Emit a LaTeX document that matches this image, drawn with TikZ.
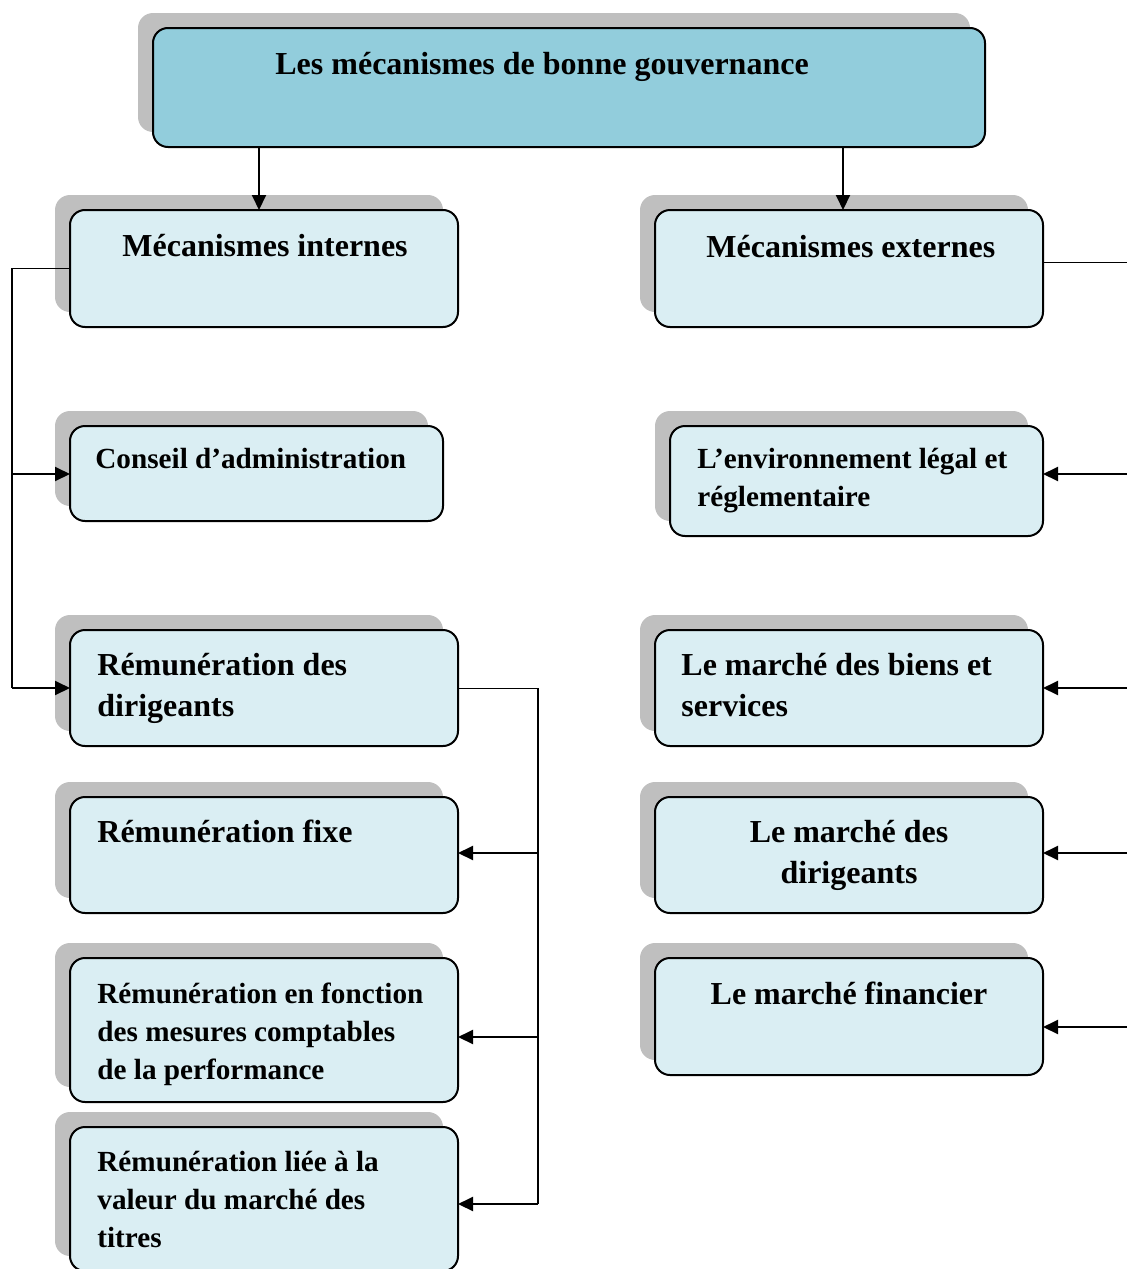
\documentclass[tikz,border=0pt]{standalone}
\usepackage{fontspec}
\setmainfont{Liberation Serif}
\usetikzlibrary{shadows,arrows.meta}
\definecolor{titlefill}{HTML}{92CDDC}
\definecolor{boxfill}{HTML}{DAEEF3}
\definecolor{shadowgray}{HTML}{BFBFBF}
\tikzset{
  box/.style={rectangle, rounded corners=7.5pt, draw=black, line width=1pt, fill=boxfill,
    inner sep=0pt, outer sep=0pt,
    general shadow={fill=shadowgray, shadow xshift=-7.5pt, shadow yshift=7.5pt}},
  txtL/.style={font=\fontsize{16}{20.5}\selectfont\bfseries, inner sep=0pt, align=left, anchor=base west},
  txtS/.style={font=\fontsize{14.6}{19}\selectfont\bfseries, inner sep=0pt, align=left, anchor=base west},
  txtC/.style={font=\fontsize{16}{20.5}\selectfont\bfseries, inner sep=0pt, align=center, anchor=base},
  arr/.style={line width=1pt, -{Triangle[length=7.5pt,width=7pt]}},
  thick line/.style={line width=1pt},
  thin line/.style={line width=0.5pt}
}
\begin{document}
\begin{tikzpicture}[x=0.5pt,y=-0.5pt]
\useasboundingbox (0,0) rectangle (1127,1269);
\clip (0,0) rectangle (1127,1269);
% boxes
\node[box, fill=titlefill, minimum width=416pt, minimum height=59.5pt] (title) at (569,87.5) {};
\node[box, minimum width=194pt, minimum height=58.5pt] (intern) at (264,268.5) {};
\node[box, minimum width=194pt, minimum height=58.5pt] (extern) at (849,268.5) {};
\node[box, minimum width=186.5pt, minimum height=47.5pt] (conseil) at (256.5,473.5) {};
\node[box, minimum width=186.5pt, minimum height=55pt] (env) at (856.5,481) {};
\node[box, minimum width=194pt, minimum height=58pt] (remdir) at (264,688) {};
\node[box, minimum width=194pt, minimum height=58pt] (biens) at (849,688) {};
\node[box, minimum width=194pt, minimum height=58pt] (fixe) at (264,855) {};
\node[box, minimum width=194pt, minimum height=58pt] (mdir) at (849,855) {};
\node[box, minimum width=194pt, minimum height=72pt] (fonction) at (264,1030) {};
\node[box, minimum width=194pt, minimum height=58.5pt] (fin) at (849,1016.5) {};
\node[box, minimum width=194pt, minimum height=72pt] (liee) at (264,1199) {};
% texts (anchor = baseline of the last line)
\node[txtL] (ttitle) at (275,74) {Les mécanismes de bonne gouvernance};
\node[txtL] (tintern) at (122,256) {Mécanismes internes};
\node[txtL] (textern) at (706,257) {Mécanismes externes};
\node[txtS] (tconseil) at (95,468) {Conseil d’administration};
\node[txtS] (tenv) at (697,506) {L’environnement légal et\\réglementaire};
\node[txtL] (tremdir) at (97,716) {Rémunération des\\dirigeants};
\node[txtL] (tbiens) at (681,716) {Le marché des biens et\\services};
\node[txtL] (tfixe) at (97,842) {Rémunération fixe};
\node[txtC] (tmdir) at (849,883) {Le marché des\\dirigeants};
\node[txtC] (tfin) at (849,1004) {Le marché financier};
\node[txtS] (tfonction) at (97,1079) {Rémunération en fonction\\des mesures comptables\\de la performance};
\node[txtS] (tliee) at (97,1247) {Rémunération liée à la\\valeur du marché des\\titres};
% connector coordinates
\coordinate (xa) at (259,0);
\coordinate (xb) at (843,0);
\coordinate (L0) at (12,268);
\coordinate (L1) at (12,474);
\coordinate (L2) at (12,688);
\coordinate (R0) at (1132,262);
\coordinate (R1) at (1132,474);
\coordinate (R2) at (1132,688);
\coordinate (R3) at (1132,853);
\coordinate (R4) at (1132,1027);
\coordinate (M0) at (538,688);
\coordinate (M1) at (538,853);
\coordinate (M2) at (538,1037);
\coordinate (M3) at (538,1204);
% top arrows
\draw[arr] (title.south -| xa) -- (intern.north -| xa);
\draw[arr] (title.south -| xb) -- (extern.north -| xb);
% left bus
\draw[thin line] (intern.west |- L0) -- (L0);
\draw[thick line] (L0) -- (L2);
\draw[arr] (L1) -- (conseil.west |- L1);
\draw[arr] (L2) -- (remdir.west |- L2);
% right bus
\draw[thin line] (extern.east |- R0) -- (R0);
\draw[thick line] (R0) -- (R4);
\draw[arr] (R1) -- (env.east |- R1);
\draw[arr] (R2) -- (biens.east |- R2);
\draw[arr] (R3) -- (mdir.east |- R3);
\draw[arr] (R4) -- (fin.east |- R4);
% middle bus
\draw[thin line] (remdir.east |- M0) -- (M0);
\draw[thick line] (M0) -- (M3);
\draw[arr] (M1) -- (fixe.east |- M1);
\draw[arr] (M2) -- (fonction.east |- M2);
\draw[arr] (M3) -- (liee.east |- M3);
\end{tikzpicture}
\end{document}
